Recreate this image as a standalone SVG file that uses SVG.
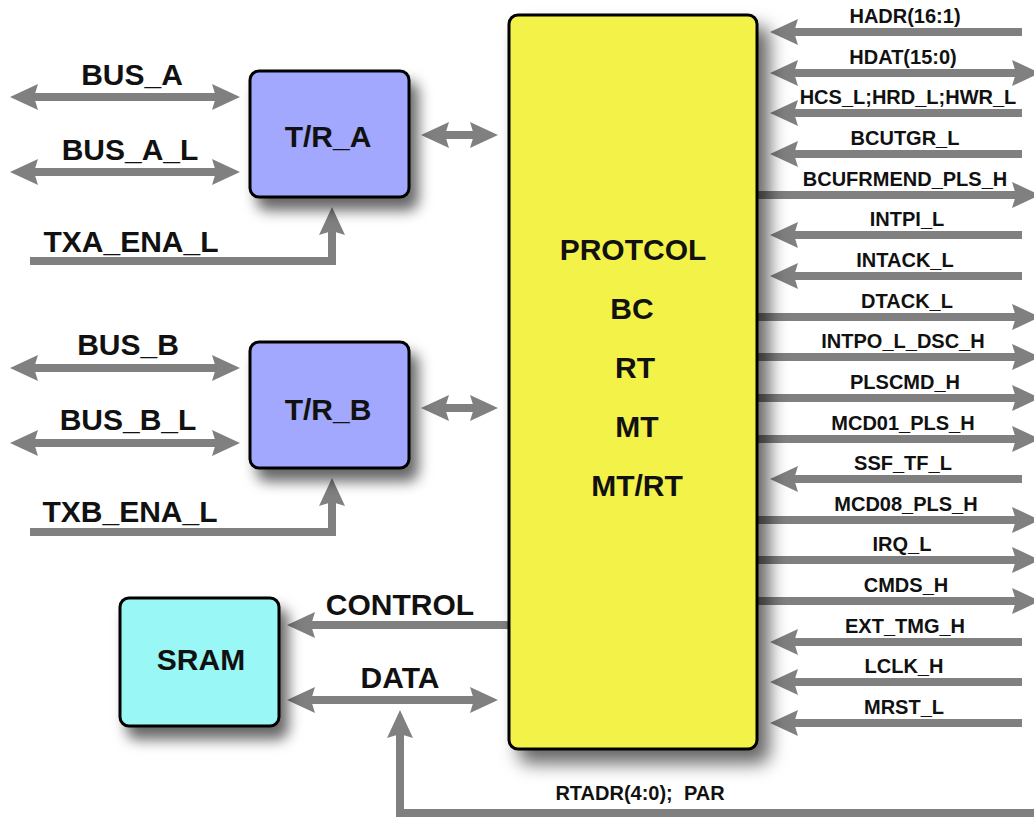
<svg xmlns="http://www.w3.org/2000/svg" width="1034" height="821" viewBox="0 0 1034 821">
<style>
.t{font-family:"Liberation Sans",Arial,sans-serif;font-weight:bold;text-anchor:middle;fill:#111}
.big{font-size:30px}
.sm{font-size:20px}
.ln{fill:none;stroke:#808080;stroke-width:8;stroke-linejoin:miter}
.box{stroke:#000;stroke-width:3}
</style>
<defs>
<marker id="ah" markerUnits="userSpaceOnUse" markerWidth="30" markerHeight="28" viewBox="0 -14 30 28" refX="16" refY="0" orient="auto-start-reverse">
<path d="M0,-13 L28,0 L0,13 L4,0 Z" fill="#808080"/>
</marker>
<filter id="sh" x="-20%" y="-20%" width="160%" height="160%">
<feDropShadow dx="8" dy="12" stdDeviation="7" flood-color="#000" flood-opacity="0.6"/>
</filter>
<filter id="shm" x="-20%" y="-10%" width="160%" height="125%">
<feDropShadow dx="11" dy="13" stdDeviation="9" flood-color="#000" flood-opacity="0.6"/>
</filter>
</defs>
<rect width="1034" height="821" fill="#fff"/>
<g id="connectors">
<path class="ln" d="M22,97 H228" marker-start="url(#ah)" marker-end="url(#ah)"/>
<path class="ln" d="M22,172 H228" marker-start="url(#ah)" marker-end="url(#ah)"/>
<path class="ln" d="M30,261 H332 V219" marker-end="url(#ah)"/>
<path class="ln" d="M433,135 H486" marker-start="url(#ah)" marker-end="url(#ah)"/>
<path class="ln" d="M22,368 H228" marker-start="url(#ah)" marker-end="url(#ah)"/>
<path class="ln" d="M22,443 H228" marker-start="url(#ah)" marker-end="url(#ah)"/>
<path class="ln" d="M30,532 H332 V490" marker-end="url(#ah)"/>
<path class="ln" d="M433,408 H486" marker-start="url(#ah)" marker-end="url(#ah)"/>
<path class="ln" d="M509,625 H299" marker-end="url(#ah)"/>
<path class="ln" d="M299,700 H486" marker-start="url(#ah)" marker-end="url(#ah)"/>
<path class="ln" d="M1034,813 H400 V722" marker-end="url(#ah)"/>
<path class="ln" d="M1022,32 H782" marker-end="url(#ah)"/>
<path class="ln" d="M782,73 H1028" marker-start="url(#ah)" marker-end="url(#ah)"/>
<path class="ln" d="M1022,113 H782" marker-end="url(#ah)"/>
<path class="ln" d="M1022,154 H782" marker-end="url(#ah)"/>
<path class="ln" d="M757,195 H1028" marker-end="url(#ah)"/>
<path class="ln" d="M1022,235 H782" marker-end="url(#ah)"/>
<path class="ln" d="M1022,276 H782" marker-end="url(#ah)"/>
<path class="ln" d="M757,317 H1028" marker-end="url(#ah)"/>
<path class="ln" d="M757,357 H1028" marker-end="url(#ah)"/>
<path class="ln" d="M757,398 H1028" marker-end="url(#ah)"/>
<path class="ln" d="M757,439 H1028" marker-end="url(#ah)"/>
<path class="ln" d="M1022,479 H782" marker-end="url(#ah)"/>
<path class="ln" d="M757,520 H1028" marker-end="url(#ah)"/>
<path class="ln" d="M757,560 H1028" marker-end="url(#ah)"/>
<path class="ln" d="M757,601 H1028" marker-end="url(#ah)"/>
<path class="ln" d="M1022,642 H782" marker-end="url(#ah)"/>
<path class="ln" d="M1022,682 H782" marker-end="url(#ah)"/>
<path class="ln" d="M1022,723 H782" marker-end="url(#ah)"/>
</g>
<g id="labels">
<text class="t big" x="132" y="85">BUS_A</text>
<text class="t big" x="130" y="160">BUS_A_L</text>
<text class="t big" x="131" y="252">TXA_ENA_L</text>
<text class="t big" x="128" y="355">BUS_B</text>
<text class="t big" x="128" y="430">BUS_B_L</text>
<text class="t big" x="130" y="522">TXB_ENA_L</text>
<text class="t big" x="400" y="615">CONTROL</text>
<text class="t big" x="400" y="688">DATA</text>
<text class="t sm" x="640" y="800" xml:space="preserve">RTADR(4:0);  PAR</text>
<text class="t sm" x="905" y="23">HADR(16:1)</text>
<text class="t sm" x="903" y="64">HDAT(15:0)</text>
<text class="t sm" x="908" y="104">HCS_L;HRD_L;HWR_L</text>
<text class="t sm" x="905" y="145">BCUTGR_L</text>
<text class="t sm" x="905" y="186">BCUFRMEND_PLS_H</text>
<text class="t sm" x="907" y="226">INTPI_L</text>
<text class="t sm" x="905" y="267">INTACK_L</text>
<text class="t sm" x="907" y="308">DTACK_L</text>
<text class="t sm" x="903" y="348">INTPO_L_DSC_H</text>
<text class="t sm" x="905" y="389">PLSCMD_H</text>
<text class="t sm" x="903" y="430">MCD01_PLS_H</text>
<text class="t sm" x="903" y="470">SSF_TF_L</text>
<text class="t sm" x="906" y="511">MCD08_PLS_H</text>
<text class="t sm" x="902" y="551">IRQ_L</text>
<text class="t sm" x="906" y="592">CMDS_H</text>
<text class="t sm" x="905" y="633">EXT_TMG_H</text>
<text class="t sm" x="904" y="673">LCLK_H</text>
<text class="t sm" x="904" y="714">MRST_L</text>
</g>
<g id="main">
<rect class="box" x="509" y="15" width="248" height="734" rx="9" fill="#f2f24a" filter="url(#shm)"/>
<text class="t big" x="633" y="260">PROTCOL</text>
<text class="t big" x="632" y="319">BC</text>
<text class="t big" x="635" y="378">RT</text>
<text class="t big" x="637" y="437">MT</text>
<text class="t big" x="637" y="496">MT/RT</text>
</g>
<g id="tr_a">
<rect class="box" x="250" y="71" width="159" height="126" rx="9" fill="#a1a8fd" filter="url(#sh)"/>
<text class="t big" x="328" y="147">T/R_A</text>
</g>
<g id="tr_b">
<rect class="box" x="250" y="342" width="159" height="126" rx="9" fill="#a1a8fd" filter="url(#sh)"/>
<text class="t big" x="328" y="420">T/R_B</text>
</g>
<g id="sram">
<rect class="box" x="120" y="598" width="159" height="128" rx="9" fill="#99f8f6" filter="url(#sh)"/>
<text class="t big" x="201" y="670">SRAM</text>
</g>
</svg>
